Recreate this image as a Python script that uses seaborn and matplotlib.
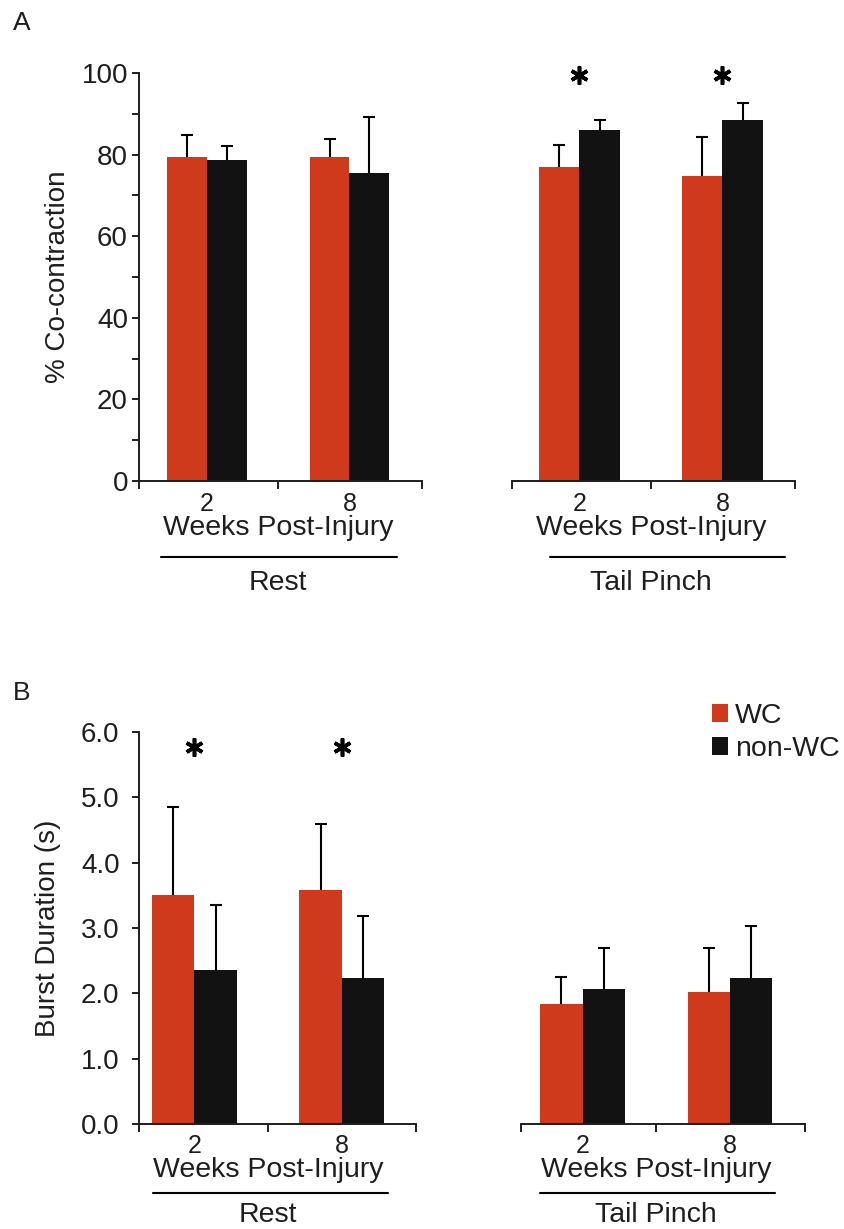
# bar chart: co-contraction and burst duration, WC vs non-WC
import pandas as pd
import numpy as np
import seaborn as sns
import matplotlib.pyplot as plt
from matplotlib.patches import Patch
from matplotlib.transforms import blended_transform_factory

# data
weeks = ['2', '8']
groups = ['WC', 'non-WC']

cocon_rest_wc = [79.3, 79.5]
cocon_rest_wc_err = [5.4, 4.4]
cocon_rest_non = [78.6, 75.4]
cocon_rest_non_err = [3.4, 13.8]
cocon_tp_wc = [76.9, 74.7]
cocon_tp_wc_err = [5.4, 9.6]
cocon_tp_non = [86.1, 88.4]
cocon_tp_non_err = [2.4, 4.2]

burst_rest_wc = [3.50, 3.58]
burst_rest_wc_err = [1.35, 1.01]
burst_rest_non = [2.35, 2.24]
burst_rest_non_err = [1.00, 0.95]
burst_tp_wc = [1.83, 2.02]
burst_tp_wc_err = [0.42, 0.68]
burst_tp_non = [2.07, 2.23]
burst_tp_non_err = [0.62, 0.80]

# significance markers (per week) and their height
cocon_rest_sig = [False, False]
cocon_tp_sig = [True, True]
burst_rest_sig = [True, True]
burst_tp_sig = [False, False]
cocon_star_y = 99.4
burst_star_y = 5.77

conditions = ['Rest', 'Tail Pinch']
x_title = 'Weeks Post-Injury'

red = '#CF3A1D'
black = '#121212'
txt = '#1e1e1e'

sns.set_style('ticks')
plt.rcParams['font.family'] = ['Liberation Sans', 'DejaVu Sans']
plt.rcParams['axes.linewidth'] = 1.4
plt.rcParams['text.color'] = txt
plt.rcParams['axes.labelcolor'] = txt
plt.rcParams['xtick.color'] = txt
plt.rcParams['ytick.color'] = txt
plt.rcParams['axes.edgecolor'] = txt

W, H = 844, 1229
fig = plt.figure(figsize=(W / 100, H / 100), dpi=100)


def make_df(wc, non):
    return pd.DataFrame({
        'week': weeks * 2,
        'group': [groups[0]] * 2 + [groups[1]] * 2,
        'value': list(wc) + list(non),
    })


def px_axes(x0, x1, y_top, y_bot):
    return fig.add_axes([x0 / W, 1 - y_bot / H, (x1 - x0) / W, (y_bot - y_top) / H])


def draw_panel(ax, wc, wc_err, non, non_err, sig, star_y, cond, xlim, width,
               line_ext, offs, show_y):
    df = make_df(wc, non)
    sns.barplot(data=df, x='week', y='value', hue='group', order=weeks,
                hue_order=groups, palette=[red, black], width=width,
                errorbar=None, saturation=1, linewidth=0, legend=False, ax=ax)
    # upward-only error bars on top of each bar
    for cont, errs in zip(ax.containers, [wc_err, non_err]):
        for bar, e in zip(cont, errs):
            xc = bar.get_x() + bar.get_width() / 2
            eb = ax.errorbar([xc], [bar.get_height()], yerr=[[0], [e]], fmt='none',
                             ecolor='black', elinewidth=1.5, capsize=4.5,
                             capthick=1.5, zorder=1)
            eb[1][0].set_visible(False)  # drop the lower cap
    for i, s in enumerate(sig):
        if s:
            ax.plot([i], [star_y], marker=(6, 2, 0), markersize=13,
                    markeredgewidth=2.6, color='black', clip_on=False)

    ax.set_xlim(*xlim)
    ax.set_xticks([xlim[0], 0.5, xlim[1]])
    ax.set_xticklabels([])
    ax.tick_params(axis='x', which='major', length=6, width=1.4, direction='out')
    ax.set_xlabel('')
    ax.set_ylabel('')
    sns.despine(ax=ax, left=not show_y)
    if not show_y:
        ax.set_yticks([])

    tr = blended_transform_factory(ax.transData, ax.transAxes)
    for i, w in enumerate(weeks):
        ax.text(i, offs[0], w, transform=tr, ha='center', va='baseline', fontsize=18)
    ax.text(0.5, offs[1], x_title, transform=tr, ha='center', va='baseline', fontsize=20.5)
    ax.plot(line_ext, [offs[2], offs[2]], transform=tr, color='black', lw=1.5,
            clip_on=False)
    ax.text(0.5, offs[3], cond, transform=tr, ha='center', va='baseline', fontsize=20.5)


# panel A
axA1 = px_axes(139, 422, 73, 481)
axA2 = px_axes(512, 795, 73, 481)
offsA = [-0.074, -0.133, -0.186, -0.267]
draw_panel(axA1, cocon_rest_wc, cocon_rest_wc_err, cocon_rest_non, cocon_rest_non_err,
           cocon_rest_sig, cocon_star_y, conditions[0], (-0.477, 1.509), 0.56,
           [-0.323, 1.333], offsA, True)
draw_panel(axA2, cocon_tp_wc, cocon_tp_wc_err, cocon_tp_non, cocon_tp_non_err,
           cocon_tp_sig, cocon_star_y, conditions[1], (-0.472, 1.507), 0.566,
           [-0.206, 1.437], offsA, False)
for a in (axA1, axA2):
    a.set_ylim(0, 100)
axA1.set_yticks(np.arange(0, 101, 20))
axA1.set_yticks(np.arange(10, 100, 20), minor=True)
axA1.tick_params(axis='y', which='both', length=5, width=1.4, pad=3, labelsize=20)
axA1.set_ylabel('% Co-contraction', fontsize=20)
axA1.yaxis.set_label_coords(-0.240, 0.5)

# panel B
axB1 = px_axes(139, 416, 732, 1124)
axB2 = px_axes(521, 805, 732, 1124)
offsB = [-0.075, -0.136, -0.176, -0.25]
draw_panel(axB1, burst_rest_wc, burst_rest_wc_err, burst_rest_non, burst_rest_non_err,
           burst_rest_sig, burst_star_y, conditions[0], (-0.376, 1.502), 0.576,
           [-0.281, 1.312], offsB, True)
draw_panel(axB2, burst_tp_wc, burst_tp_wc_err, burst_tp_non, burst_tp_non_err,
           burst_tp_sig, burst_star_y, conditions[1], (-0.417, 1.508), 0.57,
           [-0.288, 1.305], offsB, False)
for a in (axB1, axB2):
    a.set_ylim(0, 6)
axB1.set_yticks(np.arange(0, 6.01, 1.0))
axB1.set_yticklabels([f'{v:.1f}' for v in np.arange(0, 6.01, 1.0)])
axB1.tick_params(axis='y', length=5, width=1.4, pad=9, labelsize=20)
axB1.set_ylabel('Burst Duration (s)', fontsize=20)
axB1.yaxis.set_label_coords(-0.282, 0.5)

# legend
handles = [Patch(facecolor=red, edgecolor='none'), Patch(facecolor=black, edgecolor='none')]
fig.legend(handles, groups, loc='upper left', bbox_to_anchor=(712 / W, 1 - 703 / H),
           frameon=False, fontsize=20.5, handlelength=0.55, handleheight=0.55,
           handletextpad=0.25, labelspacing=0.25, borderpad=0, borderaxespad=0)

fig.text(13 / W, 1 - 30 / H, 'A', fontsize=19, ha='left', va='baseline')
fig.text(13 / W, 1 - 700 / H, 'B', fontsize=19, ha='left', va='baseline')

fig.savefig('out.png', dpi=100)
